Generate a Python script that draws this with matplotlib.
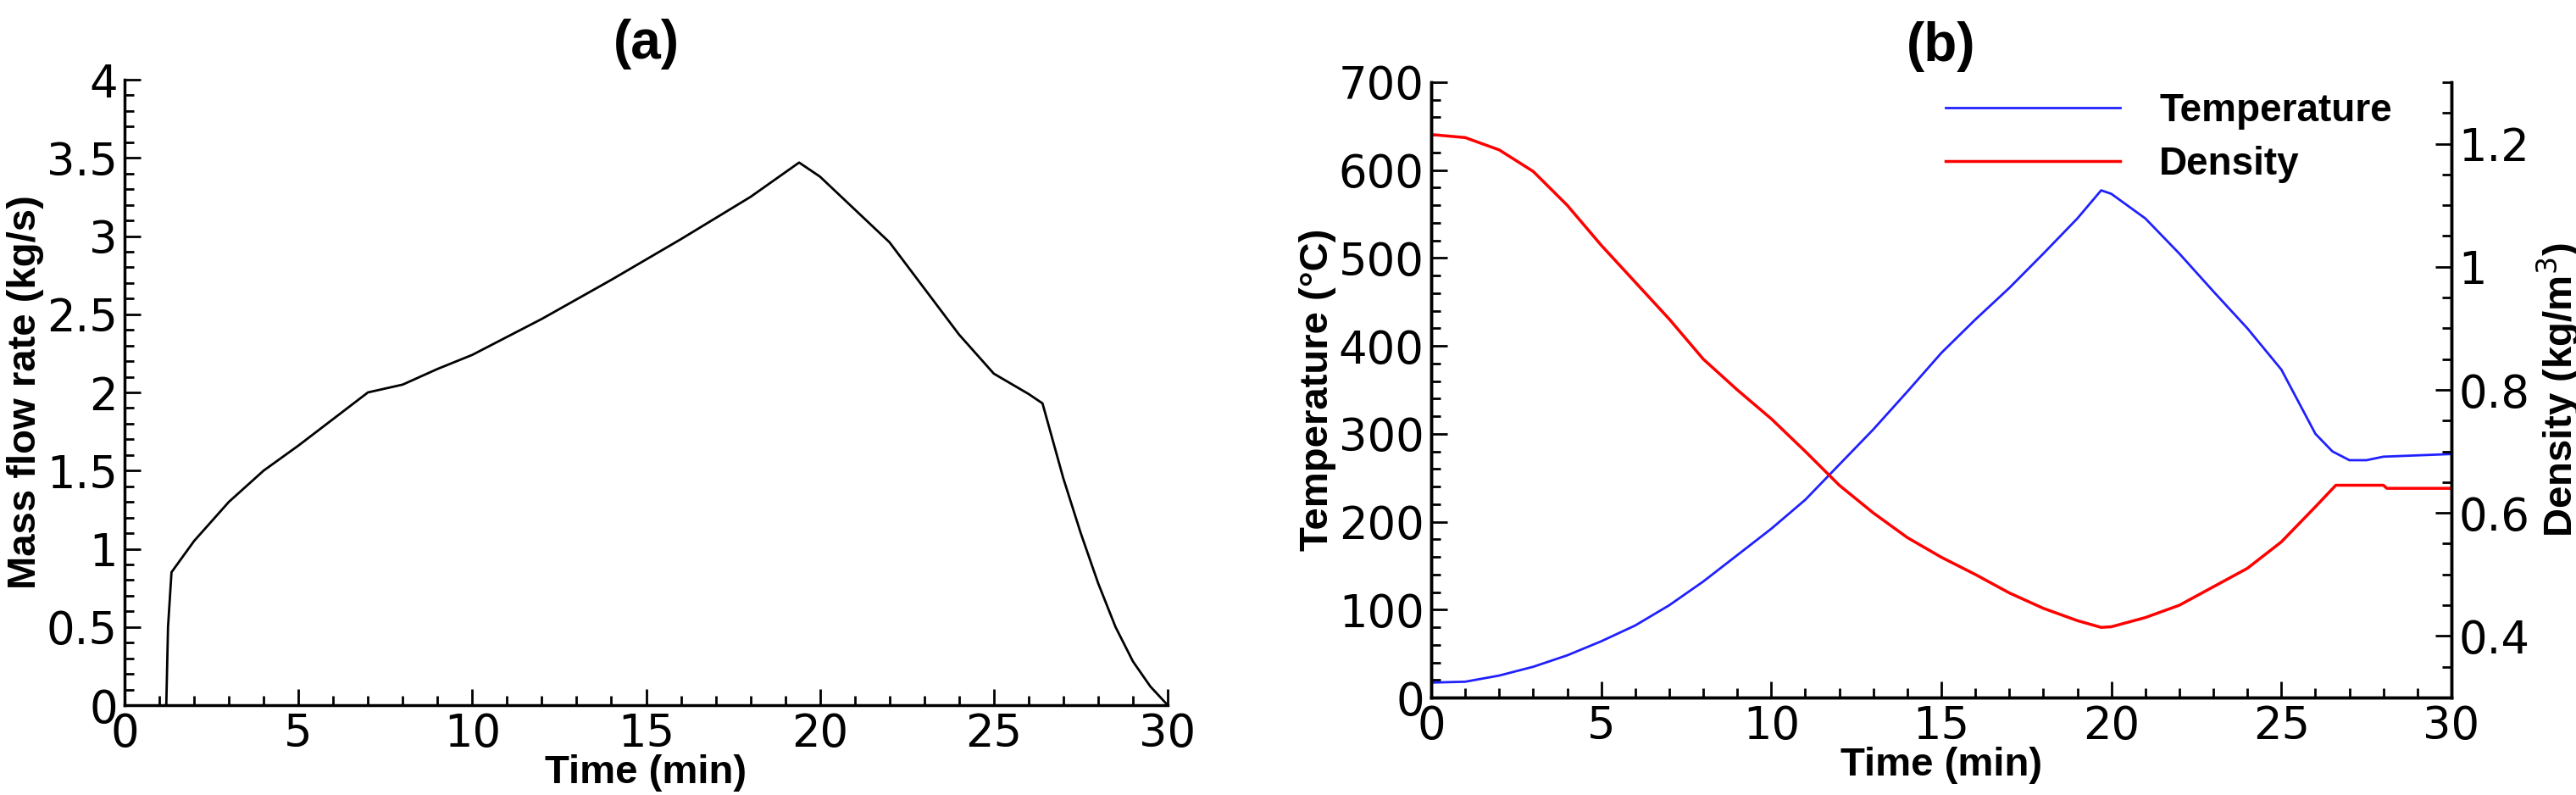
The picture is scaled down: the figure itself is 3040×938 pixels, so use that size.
import matplotlib
matplotlib.use("Agg")
import matplotlib.pyplot as plt
from matplotlib.ticker import MultipleLocator, FuncFormatter

t_flow = [1.2, 1.25, 1.35, 2, 3, 4, 5, 6, 7, 8, 9, 10, 12, 14, 16, 18, 19.4, 20, 22, 24, 25, 26, 26.4, 27, 27.5, 28, 28.5, 29, 29.5, 30]
flow = [0, 0.5, 0.85, 1.05, 1.3, 1.5, 1.66, 1.83, 2.0, 2.05, 2.15, 2.24, 2.47, 2.72, 2.98, 3.25, 3.47, 3.38, 2.96, 2.37, 2.12, 1.99, 1.93, 1.45, 1.1, 0.78, 0.5, 0.28, 0.12, 0.0]

t_temp = [0, 1, 2, 3, 4, 5, 6, 7, 8, 9, 10, 11, 12, 13, 14, 15, 16, 17, 18, 19, 19.7, 20, 21, 22, 23, 24, 25, 26, 26.5, 27, 27.5, 28, 30]
temp = [17, 18, 25, 35, 48, 64, 82, 105, 132, 162, 192, 225, 265, 305, 348, 392, 430, 466, 505, 545, 577, 573, 545, 505, 462, 420, 373, 300, 280, 270, 270, 274, 277]

t_dens = [0, 1, 2, 3, 4, 5, 6, 7, 8, 9, 10, 11, 12, 13, 14, 15, 16, 17, 18, 19, 19.7, 20, 21, 22, 23, 24, 25, 26, 26.6, 27.5, 28, 28.1, 30]
dens = [1.215, 1.21, 1.19, 1.155, 1.10, 1.035, 0.975, 0.915, 0.85, 0.80, 0.753, 0.70, 0.645, 0.60, 0.56, 0.528, 0.50, 0.47, 0.445, 0.425, 0.414, 0.415, 0.43, 0.45, 0.48, 0.51, 0.553, 0.61, 0.645, 0.645, 0.645, 0.64, 0.64]

TF = ['Liberation Sans Narrow', 'DejaVu Sans Condensed', 'DejaVu Sans']
LF = ['Liberation Sans', 'DejaVu Sans']
fmt = FuncFormatter(lambda v, p: '%g' % round(v, 6))

fig = plt.figure(figsize=(30.4, 9.38), dpi=100)
W, H = 3040, 938
ax1 = fig.add_axes([147/W, 1-832/H, (1378-147)/W, (832-94)/H])
ax2 = fig.add_axes([1689/W, 1-823/H, (2893-1689)/W, (823-97)/H])
ax3 = ax2.twinx()

def style(ax, xmaj, xmin, ymaj, ymin):
    ax.xaxis.set_major_locator(MultipleLocator(xmaj))
    ax.xaxis.set_minor_locator(MultipleLocator(xmin))
    ax.yaxis.set_major_locator(MultipleLocator(ymaj))
    ax.yaxis.set_minor_locator(MultipleLocator(ymin))
    ax.xaxis.set_major_formatter(fmt)
    ax.yaxis.set_major_formatter(fmt)
    ax.tick_params(which='major', direction='in', length=14, width=2, labelsize=38, pad=6)
    ax.tick_params(which='minor', direction='in', length=8, width=2)
    for lab in ax.get_xticklabels() + ax.get_yticklabels():
        lab.set_family(TF)
    for s in ax.spines.values():
        s.set_linewidth(2.5)

ax1.plot(t_flow, flow, color='black', lw=2)
ax1.set_xlim(0, 30); ax1.set_ylim(0, 4)
ax1.spines['top'].set_visible(False); ax1.spines['right'].set_visible(False)
style(ax1, 5, 1, 0.5, 0.1)
ax1.set_xlabel('Time (min)', fontsize=34, fontweight='bold', family=LF, labelpad=-2)
ax1.set_ylabel('Mass flow rate (kg/s)', fontsize=34, fontweight='bold', family=LF, labelpad=2)
ax1.set_title('(a)', fontsize=46, fontweight='bold', family=LF, pad=18)

l1, = ax2.plot(t_temp, temp, color='#2020ff', lw=2, label='Temperature')
l2, = ax3.plot(t_dens, dens, color='#ff0000', lw=2.5, label='Density')
ax2.set_xlim(0, 30); ax2.set_ylim(0, 700); ax3.set_ylim(0.3, 1.3)
ax2.spines['top'].set_visible(False); ax3.spines['top'].set_visible(False)
style(ax2, 5, 1, 100, 20)
style(ax3, 5, 1, 0.2, 0.05)
ax2.set_xlabel('Time (min)', fontsize=34, fontweight='bold', family=LF, labelpad=-2)
ax2.set_ylabel('Temperature (°C)', fontsize=34, fontweight='bold', family=LF, labelpad=2)
ax3.set_ylabel('Density (kg/m$^3$)', fontsize=34, fontweight='bold', family=LF, labelpad=4)
ax2.set_title('(b)', fontsize=46, fontweight='bold', family=LF, pad=18)
leg = ax2.legend([l1, l2], ['Temperature', 'Density'], loc='upper left', bbox_to_anchor=(0.47, 1.04),
                 frameon=False, handlelength=4.5, handletextpad=1.0, labelspacing=0.4,
                 prop={'family': LF, 'weight': 'bold', 'size': 33})

fig.savefig('out.png', dpi=100)
